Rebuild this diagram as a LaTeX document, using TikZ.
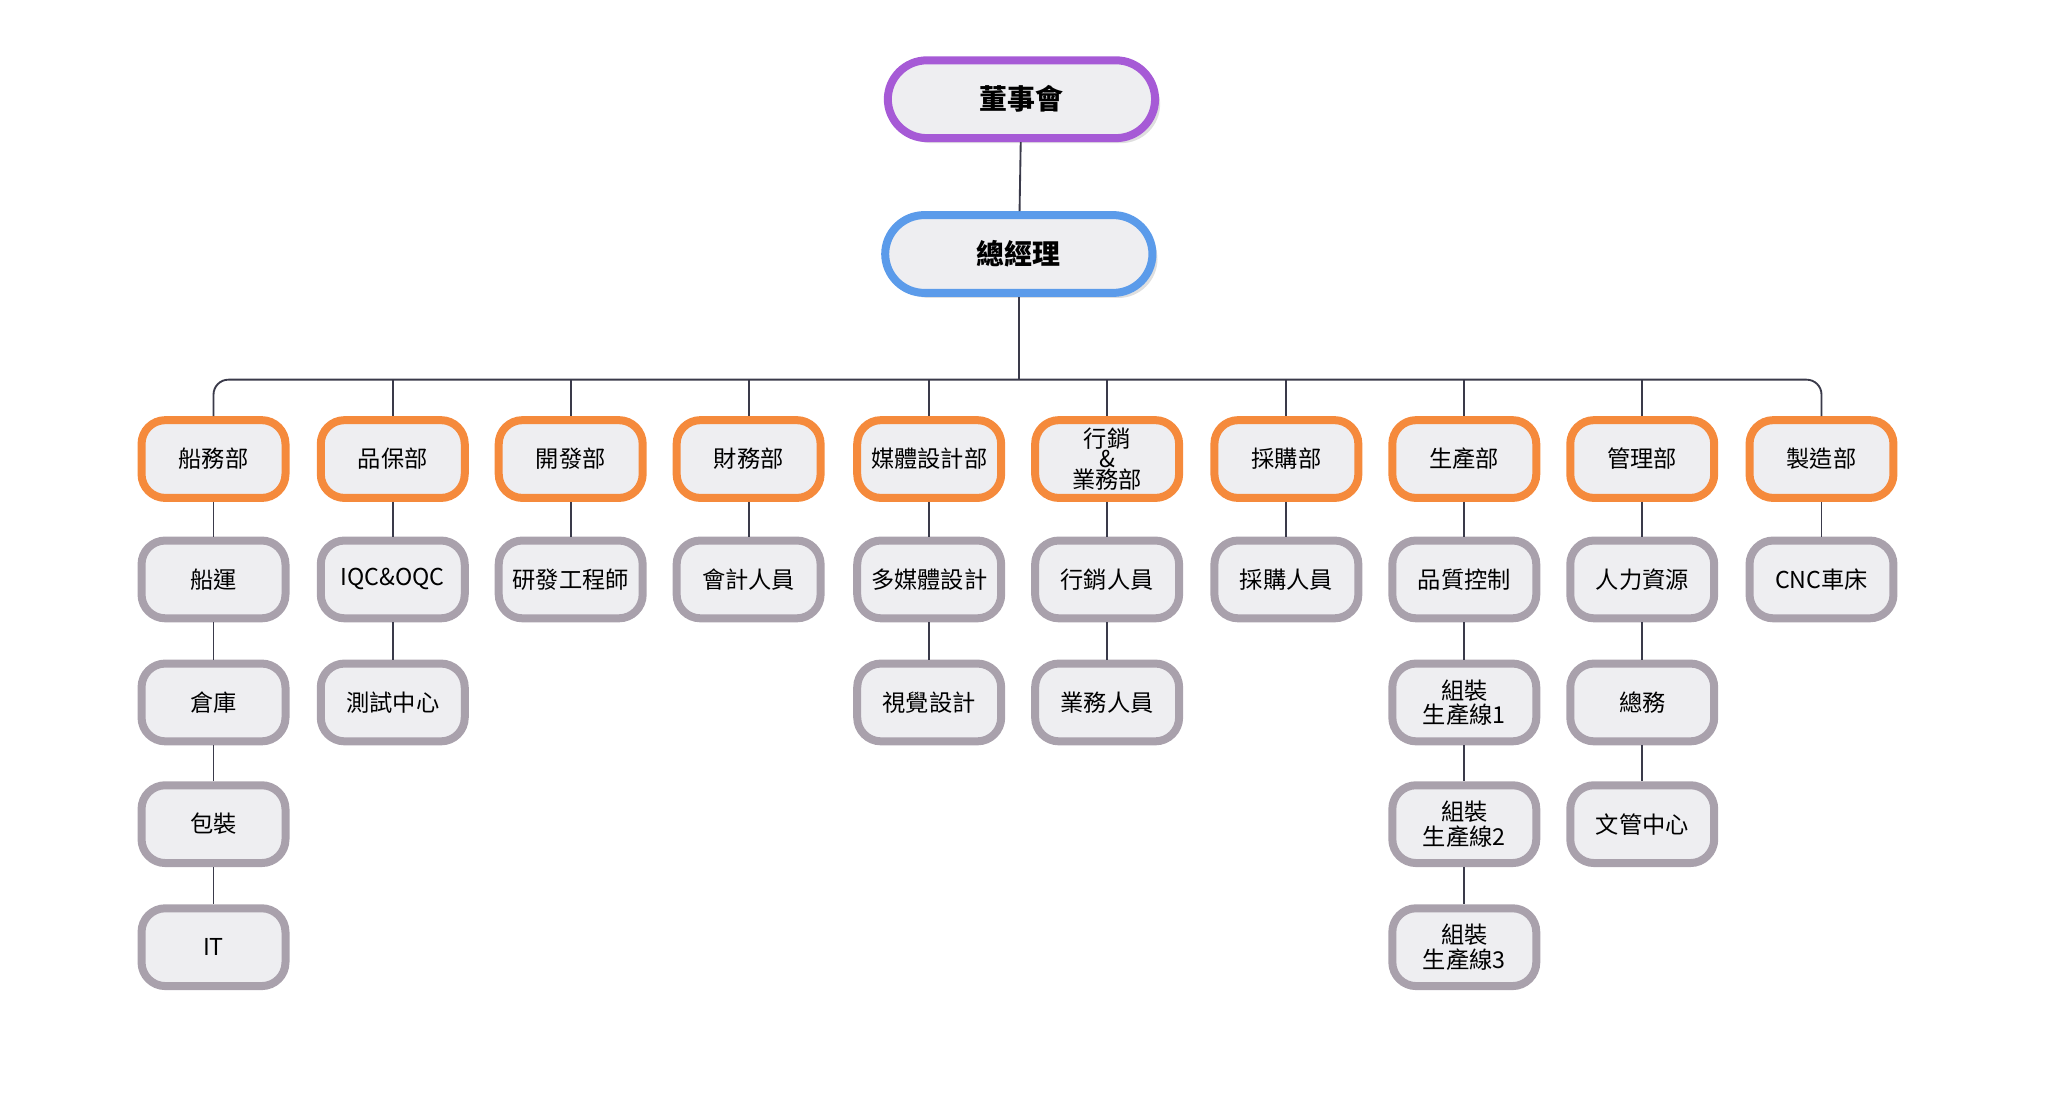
\documentclass[tikz,border=0pt]{standalone}
\usepackage{fontspec}
\setmainfont{Noto Sans CJK TC}
\usetikzlibrary{positioning,shadows}
\definecolor{boxfill}{HTML}{EEEEF1}
\definecolor{deptline}{HTML}{F58A3C}
\definecolor{subline}{HTML}{A9A1AC}
\definecolor{boardline}{HTML}{A65AD6}
\definecolor{gmline}{HTML}{5B9BEA}
\definecolor{wire}{HTML}{3A3A4A}
\tikzset{
  box/.style={draw, line width=4.3pt, fill=boxfill, rounded corners=0.45cm,
    minimum width=2.72cm, minimum height=1.47cm, align=center,
    font=\fontsize{12.5}{13}\selectfont, inner sep=1pt},
  dept/.style={box, draw=deptline},
  unit/.style={box, draw=subline},
  head/.style={box, minimum width=5.05cm, rounded corners=0.74cm,
    font=\fontsize{15}{16}\selectfont\bfseries, drop shadow={opacity=0.25}},
  wire/.style={draw=wire, line width=1pt}
}
\begin{document}
\begin{tikzpicture}[x=0.0249cm, y=0.025cm]
\useasboundingbox (0,0) rectangle (1566,-831);
% top
\node[head, draw=boardline] (board) at (775,-75) {董事會};
\node[head, draw=gmline] (gm) at (773,-192) {總經理};
% departments
\foreach \n/\x/\t in {1/162/船務部, 2/298/品保部, 3/433/開發部, 4/568/財務部,
  5/705/媒體設計部, 6/840/{行銷\\[-2pt]\&\\[-2pt]業務部}, 7/976/採購部, 8/1111/生產部,
  9/1246/管理部, 10/1382/製造部}
  \node[dept] (d\n) at (\x,-347) {\t};
% units
\node[unit] (u11) at (162,-438) {船運};
\node[unit] (u12) at (162,-531) {倉庫};
\node[unit] (u13) at (162,-623) {包裝};
\node[unit] (u14) at (162,-716) {IT};
\node[unit] (u21) at (298,-438) {IQC\&OQC};
\node[unit] (u22) at (298,-531) {測試中心};
\node[unit] (u31) at (433,-438) {研發工程師};
\node[unit] (u41) at (568,-438) {會計人員};
\node[unit] (u51) at (705,-438) {多媒體設計};
\node[unit] (u52) at (705,-531) {視覺設計};
\node[unit] (u61) at (840,-438) {行銷人員};
\node[unit] (u62) at (840,-531) {業務人員};
\node[unit] (u71) at (976,-438) {採購人員};
\node[unit] (u81) at (1111,-438) {品質控制};
\node[unit] (u82) at (1111,-531) {組裝\\生產線1};
\node[unit] (u83) at (1111,-623) {組裝\\生產線2};
\node[unit] (u84) at (1111,-716) {組裝\\生產線3};
\node[unit] (u91) at (1246,-438) {人力資源};
\node[unit] (u92) at (1246,-531) {總務};
\node[unit] (u93) at (1246,-623) {文管中心};
\node[unit] (u101) at (1382,-438) {CNC車床};
% connectors
\coordinate (bus) at (773,-287);
\begin{scope}[on background layer/.try]
\draw[wire] (board) -- (gm);
\draw[wire] (gm) -- (bus);
\draw[wire, rounded corners=8pt] (d1.north) |- (bus) -| (d10.north);
\foreach \n in {2,...,9} \draw[wire] (d\n.north |- bus) -- (d\n.north);
\foreach \a/\b in {d1/u11, u11/u12, u12/u13, u13/u14, d2/u21, u21/u22, d3/u31,
  d4/u41, d5/u51, u51/u52, d6/u61, u61/u62, d7/u71, d8/u81, u81/u82, u82/u83,
  u83/u84, d9/u91, u91/u92, u92/u93, d10/u101}
  \draw[wire] (\a) -- (\b);
\end{scope}
\end{tikzpicture}
\end{document}
